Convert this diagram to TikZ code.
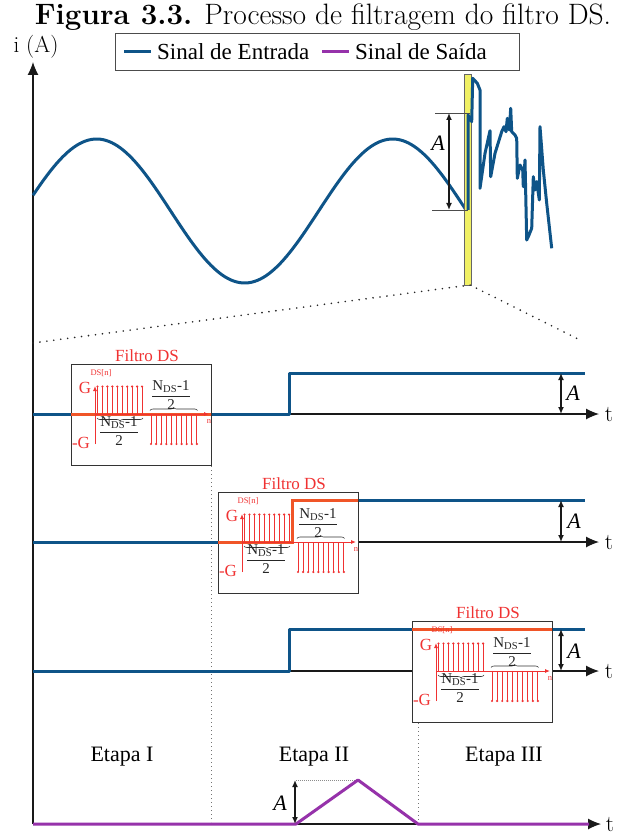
\documentclass[tikz,border=0pt]{standalone}
\usepackage{fontspec}
\newfontfamily\tms{Liberation Serif}
\usetikzlibrary{arrows.meta,decorations.pathreplacing}
\definecolor{sigblue}{RGB}{14,84,136}
\definecolor{sigpurple}{RGB}{150,50,170}
\definecolor{sigorange}{RGB}{240,85,40}
\definecolor{stemred}{RGB}{240,50,50}
\definecolor{baryellow}{RGB}{240,240,100}
\tikzset{
  axisarrow/.style={black!90, line width=1.1pt, -{Latex[length=13pt,width=11pt]}},
  bluesig/.style={sigblue, line width=3pt, line join=round},
  purplesig/.style={sigpurple, line width=3pt, line join=round},
  orangesig/.style={sigorange, line width=3pt},
  ampl/.style={black!90, line width=1.8pt, {Latex[length=7pt,width=6pt]}-{Latex[length=7pt,width=6pt]}},
  stem/.style={stemred, line width=0.9pt},
  redaxis/.style={stemred, line width=0.9pt, -{Latex[length=5pt,width=4pt]}},
  fboxst/.style={draw=black!80, fill=white, line width=1pt},
  bracest/.style={black!80, line width=0.6pt, decorate, decoration={brace, amplitude=3pt}},
  ftitle/.style={text=stemred, font=\tms\fontsize{17}{19}\selectfont, inner sep=0},
  glab/.style={text=stemred, font=\tms\fontsize{17}{19}\selectfont, inner sep=0},
  tinylab/.style={text=stemred, font=\tms\fontsize{8.5}{9}\selectfont, inner sep=0},
  frac/.style={text=black!85, font=\tms\fontsize{15}{17}\selectfont, inner sep=0},
  alab/.style={font=\tms\itshape\fontsize{22}{24}\selectfont, inner sep=0},
  tlab/.style={font=\fontsize{23}{26}\selectfont, inner sep=0, anchor=base},
  legtext/.style={font=\tms\fontsize{23}{26}\selectfont, inner sep=0, anchor=west},
  etapa/.style={font=\tms\fontsize{22}{24}\selectfont, inner sep=0, anchor=base},
  zoomdots/.style={black!85, line width=1.8pt, dash pattern=on 0pt off 7pt, line cap=round},
  sepdots/.style={black!55, line width=0.9pt, dash pattern=on 1.2pt off 2.8pt},
  levdots/.style={black!45, line width=0.6pt, dash pattern=on 0.8pt off 1.2pt},
  tick/.style={black!70, line width=0.8pt}
}
\newcommand\ntfrac{$\displaystyle\frac{\mbox{N\textsubscript{DS}-1}}{\mbox{2}}$}
\newcommand\dsfilter[4]{%
\begin{scope}[shift={(#2,#3)}]
  \draw[fboxst] (71,364) rectangle (211,465);
  \draw[orangesig] #4;
  \node[ftitle, anchor=base] (#1title) at (147,361) {Filtro DS};
  \draw[redaxis] (95,444) -- (95,386);
  \draw[redaxis] (95,414) -- (209,414);
  \foreach \k in {0,...,9}{
    \draw[stem] ({97.5+4.95*\k},414) -- ({97.5+4.95*\k},386.5);
    \fill[stemred] ({97.5+4.95*\k},386.5) circle (1.2pt);
    \draw[stem] ({151+5.1*\k},414) -- ({151+5.1*\k},444);
    \fill[stemred] ({151+5.1*\k},444) circle (1.2pt);
  }
  \draw[bracest] (150,410.5) -- (197.5,410.5);
  \draw[bracest] (143,418) -- (97,418);
  \node[frac] (#1fa) at (171,395) {\ntfrac};
  \node[frac] (#1fb) at (119,431) {\ntfrac};
  \node[glab] (#1g) at (85,388) {G};
  \node[glab] (#1mg) at (81,443) {-G};
  \node[tinylab] (#1dsn) at (101,373) {DS[n]};
  \node[tinylab] (#1n) at (209,421) {n};
\end{scope}}
\begin{document}
\begin{tikzpicture}[x=1pt,y=-1pt]
\useasboundingbox (0,0) rectangle (616,834);
\fill[white] (0,0) rectangle (616,834);

% title and legend
\node[anchor=base, font=\fontsize{29.5}{32}\selectfont, inner sep=0] (title) at (323,25) {\textbf{Figura 3.3.} Processo de filtragem do filtro DS.};
\node[draw=black!70, line width=0.8pt, minimum width=404pt, minimum height=37pt, inner sep=0] (legend) at (317,51.5) {};
\draw[bluesig] (124,52) -- (151,52);
\node[legtext] (lin) at (157,52) {Sinal de Entrada};
\draw[purplesig] (322,52) -- (349,52);
\node[legtext] (lout) at (355,52) {Sinal de Saída};
\node[anchor=base, font=\fontsize{23}{26}\selectfont, inner sep=0] (ylab) at (36,53) {i (A)};

% vertical axis
\coordinate (o) at (33,824);
\coordinate (ytop) at (33,62);
\draw[axisarrow] (o) -- (ytop);

% top signal
\draw[bluesig] plot[domain=33:467, samples=150] (\x, {211 - 72*sin(deg(0.22 + (\x-33)*0.0212268))});
\draw[fill=baryellow, draw=black!60, line width=0.8pt] (464.5,74) rectangle (471,285);
\draw[tick] (435,113) -- (470,113);
\draw[tick] (432,210) -- (468,210);
\draw[ampl] (449,113) -- (449,210);
\node[alab] (atop) at (438,143) {A};
\draw[bluesig] (468,210) -- (468,115) -- (471.7,121.7) -- (472.7,78.3) -- (477.3,83.3) -- (480,90) -- (480,188.3) -- (485,153.3) -- (490,130.7) -- (490.7,176.7) -- (495,153.3) -- (501.7,131.7) -- (504,126.7) -- (506,131.7) -- (507.3,118.3) -- (509.3,130) -- (510.7,108.3) -- (511.7,131.7) -- (515,135) -- (516.7,138.3) -- (517.3,178.3) -- (520,165) -- (522.7,170) -- (523.3,186.7) -- (525,160) -- (526.7,240) -- (528.3,236.7) -- (531.7,228.3) -- (533.3,176.7) -- (535,190) -- (536.7,181.7) -- (539.3,200) -- (540,126.7) -- (543.3,170) -- (546.7,203.3) -- (551.7,248.3);
\draw[zoomdots] (33,343) -- (470,285) -- (582,341);

% separators
\draw[sepdots] (211,466) -- (211,822);
\draw[sepdots] (418,723) -- (418,822);

% panel 1
\draw[axisarrow] (33,414) -- (599,414);
\node[tlab] (t1) at (609,421) {t};
\draw[bluesig] (33,414) -- (289,414) -- (289,373) -- (585,373);
\draw[ampl] (561,373) -- (561,414);
\node[alab] (a1) at (573,393) {A};
\dsfilter{f1}{0}{0}{(71,414) -- (211,414)}

% panel 2
\draw[axisarrow] (33,542) -- (599,542);
\node[tlab] (t2) at (609,549) {t};
\draw[bluesig] (33,542) -- (218,542);
\draw[bluesig] (358,500) -- (585,500);
\draw[ampl] (561,500) -- (561,542);
\node[alab] (a2) at (574,521) {A};
\dsfilter{f2}{147}{128}{(71,414) -- (145,414) -- (145,372) -- (211,372)}

% panel 3
\draw[axisarrow] (33,671) -- (599,671);
\node[tlab] (t3) at (609,678) {t};
\draw[bluesig] (33,671) -- (289,671) -- (289,629) -- (412,629);
\draw[bluesig] (552,629) -- (585,629);
\draw[ampl] (561,629) -- (561,671);
\node[alab] (a3) at (574,651) {A};
\dsfilter{f3}{341}{257}{(71,372) -- (211,372)}

% stages
\node[etapa] (e1) at (122,761) {Etapa I};
\node[etapa] (e2) at (314,761) {Etapa II};
\node[etapa] (e3) at (504,761) {Etapa III};

% output
\draw[axisarrow] (o) -- (601,824);
\node[tlab] (t4) at (610,831) {t};
\draw[levdots] (296,780) -- (358,780);
\draw[purplesig] (33,824) -- (296,824) -- (358,780) -- (418,824) -- (589,824);
\draw[ampl] (295,780) -- (295,824);
\node[alab] (a4) at (280,803) {A};
\end{tikzpicture}
\end{document}
